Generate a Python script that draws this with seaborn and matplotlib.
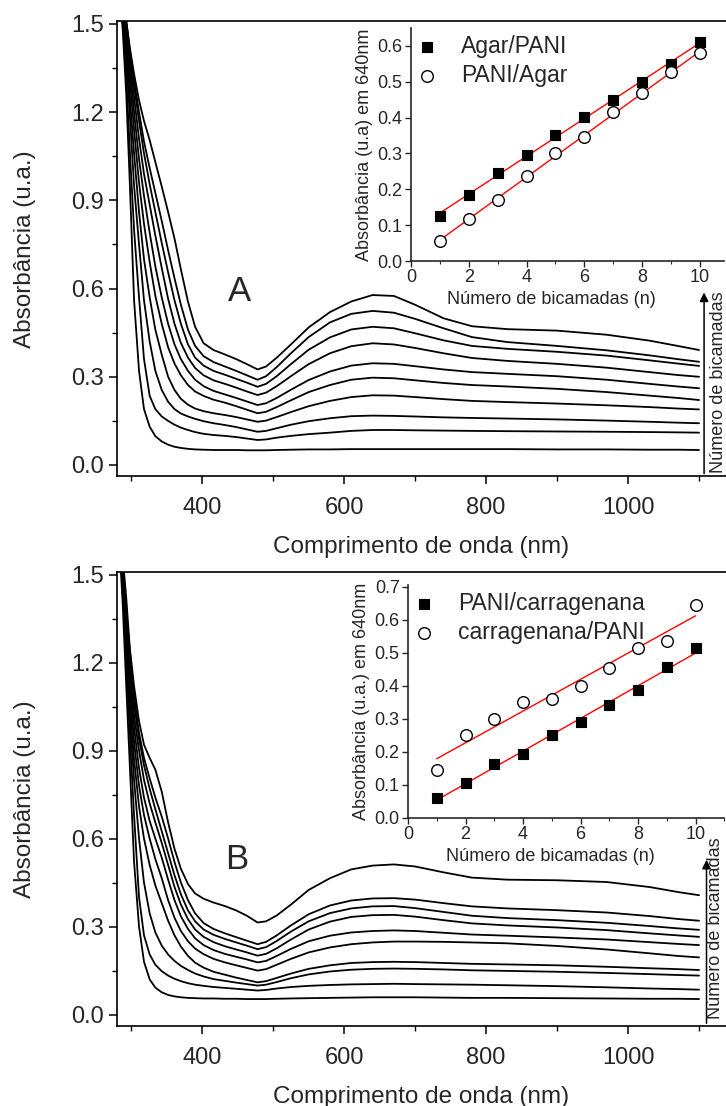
import matplotlib
matplotlib.use('Agg')
import matplotlib.pyplot as plt
import seaborn as sns
import numpy as np
import pandas as pd
from matplotlib.ticker import MultipleLocator, FormatStrFormatter

sns.set_theme(style='ticks')
plt.rcParams['font.family'] = ['Liberation Sans', 'DejaVu Sans']
plt.rcParams['axes.linewidth'] = 1.2

# comprimentos de onda (nm)
wl = [283, 288, 293, 298, 304, 311, 318, 326, 334, 343, 352, 361, 370, 380, 390, 402, 416, 432, 448, 463, 478,
      490, 505, 525, 550, 580, 610, 640, 670, 700, 740, 780, 830, 900, 970, 1030, 1070, 1100]

# painel A - espectros (1 a 10 bicamadas)
a1 = [1.62, 1.48, 1.26, 0.96, 0.56, 0.32, 0.19, 0.13, 0.098, 0.080, 0.069, 0.062, 0.058, 0.055, 0.053, 0.052, 0.051, 0.051, 0.051, 0.050, 0.050,
      0.050, 0.051, 0.052, 0.053, 0.053, 0.054, 0.054, 0.054, 0.054, 0.054, 0.054, 0.054, 0.053, 0.053, 0.052, 0.052, 0.051]
a2 = [1.62, 1.52, 1.32, 1.07, 0.80, 0.57, 0.36, 0.235, 0.19, 0.165, 0.15, 0.137, 0.127, 0.119, 0.112, 0.106, 0.102, 0.099, 0.095, 0.090, 0.085,
      0.087, 0.093, 0.099, 0.105, 0.110, 0.116, 0.119, 0.119, 0.118, 0.117, 0.116, 0.115, 0.114, 0.113, 0.112, 0.111, 0.110]
a3 = [1.62, 1.54, 1.38, 1.19, 0.95, 0.75, 0.56, 0.42, 0.32, 0.255, 0.215, 0.19, 0.175, 0.165, 0.157, 0.149, 0.142, 0.136, 0.129, 0.121, 0.113,
      0.116, 0.125, 0.137, 0.149, 0.159, 0.166, 0.168, 0.167, 0.165, 0.162, 0.160, 0.158, 0.155, 0.151, 0.147, 0.144, 0.142]
a4 = [1.62, 1.55, 1.42, 1.25, 1.06, 0.86, 0.70, 0.57, 0.46, 0.375, 0.30, 0.255, 0.225, 0.205, 0.192, 0.183, 0.176, 0.17, 0.163, 0.155, 0.147,
      0.151, 0.163, 0.18, 0.20, 0.218, 0.231, 0.237, 0.236, 0.231, 0.224, 0.218, 0.214, 0.209, 0.203, 0.197, 0.192, 0.189]
a5 = [1.62, 1.56, 1.45, 1.31, 1.14, 0.96, 0.82, 0.69, 0.575, 0.48, 0.40, 0.345, 0.305, 0.272, 0.25, 0.235, 0.222, 0.212, 0.20, 0.188, 0.176,
      0.181, 0.197, 0.22, 0.248, 0.272, 0.29, 0.297, 0.295, 0.288, 0.279, 0.272, 0.267, 0.259, 0.248, 0.236, 0.228, 0.221]
a6 = [1.62, 1.57, 1.47, 1.35, 1.20, 1.04, 0.915, 0.79, 0.675, 0.57, 0.48, 0.41, 0.36, 0.32, 0.29, 0.268, 0.252, 0.24, 0.228, 0.216, 0.204,
      0.21, 0.228, 0.256, 0.289, 0.318, 0.338, 0.346, 0.344, 0.336, 0.325, 0.316, 0.31, 0.302, 0.29, 0.276, 0.267, 0.261]
a7 = [1.62, 1.58, 1.49, 1.38, 1.25, 1.11, 0.99, 0.885, 0.78, 0.67, 0.565, 0.48, 0.415, 0.365, 0.33, 0.305, 0.288, 0.276, 0.263, 0.25, 0.238,
      0.246, 0.268, 0.302, 0.343, 0.38, 0.404, 0.414, 0.41, 0.398, 0.38, 0.364, 0.354, 0.344, 0.331, 0.316, 0.306, 0.300]
a8 = [1.62, 1.59, 1.50, 1.40, 1.29, 1.17, 1.06, 0.955, 0.86, 0.755, 0.655, 0.56, 0.48, 0.41, 0.365, 0.338, 0.32, 0.307, 0.293, 0.28, 0.266,
      0.276, 0.302, 0.343, 0.392, 0.434, 0.461, 0.47, 0.465, 0.448, 0.424, 0.405, 0.395, 0.385, 0.372, 0.356, 0.345, 0.337]
a9 = [1.62, 1.60, 1.51, 1.41, 1.31, 1.20, 1.10, 1.01, 0.925, 0.83, 0.73, 0.635, 0.545, 0.46, 0.405, 0.37, 0.35, 0.335, 0.32, 0.305, 0.29,
      0.302, 0.333, 0.38, 0.435, 0.485, 0.514, 0.524, 0.518, 0.497, 0.465, 0.435, 0.418, 0.405, 0.39, 0.373, 0.36, 0.351]
a10 = [1.62, 1.58, 1.51, 1.42, 1.33, 1.24, 1.17, 1.105, 1.03, 0.947, 0.86, 0.77, 0.665, 0.555, 0.47, 0.414, 0.391, 0.376, 0.36, 0.343, 0.325,
       0.335, 0.365, 0.41, 0.468, 0.52, 0.556, 0.578, 0.575, 0.545, 0.499, 0.472, 0.462, 0.457, 0.443, 0.423, 0.405, 0.391]

# painel B - espectros
b1 = [1.62, 1.40, 1.12, 0.85, 0.52, 0.30, 0.18, 0.12, 0.092, 0.076, 0.067, 0.062, 0.059, 0.057, 0.056, 0.055, 0.055, 0.054, 0.054, 0.053, 0.053,
      0.053, 0.054, 0.055, 0.056, 0.057, 0.058, 0.059, 0.059, 0.059, 0.058, 0.057, 0.057, 0.056, 0.055, 0.054, 0.054, 0.053]
b2 = [1.62, 1.45, 1.20, 0.95, 0.68, 0.40, 0.27, 0.205, 0.17, 0.148, 0.133, 0.122, 0.114, 0.107, 0.102, 0.098, 0.094, 0.091, 0.088, 0.085, 0.082,
      0.084, 0.089, 0.094, 0.098, 0.101, 0.103, 0.104, 0.105, 0.104, 0.103, 0.102, 0.100, 0.097, 0.093, 0.089, 0.087, 0.085]
b3 = [1.62, 1.47, 1.24, 1.01, 0.80, 0.60, 0.45, 0.345, 0.28, 0.235, 0.205, 0.183, 0.166, 0.152, 0.14, 0.13, 0.121, 0.115, 0.109, 0.104, 0.099,
      0.102, 0.111, 0.124, 0.137, 0.147, 0.153, 0.156, 0.157, 0.156, 0.154, 0.151, 0.149, 0.146, 0.142, 0.138, 0.135, 0.133]
b4 = [1.62, 1.48, 1.27, 1.06, 0.87, 0.71, 0.60, 0.51, 0.44, 0.38, 0.32, 0.27, 0.232, 0.20, 0.177, 0.16, 0.146, 0.136, 0.126, 0.118, 0.110,
      0.114, 0.125, 0.14, 0.156, 0.168, 0.176, 0.179, 0.18, 0.179, 0.176, 0.173, 0.171, 0.168, 0.163, 0.158, 0.155, 0.152]
b5 = [1.62, 1.49, 1.30, 1.11, 0.93, 0.78, 0.68, 0.60, 0.53, 0.465, 0.39, 0.33, 0.285, 0.25, 0.225, 0.206, 0.19, 0.178, 0.168, 0.159, 0.150,
      0.155, 0.17, 0.19, 0.212, 0.229, 0.24, 0.246, 0.249, 0.249, 0.248, 0.246, 0.243, 0.234, 0.222, 0.209, 0.20, 0.195]
b6 = [1.62, 1.50, 1.32, 1.15, 0.98, 0.84, 0.74, 0.66, 0.60, 0.535, 0.46, 0.39, 0.335, 0.292, 0.26, 0.237, 0.22, 0.207, 0.197, 0.188, 0.178,
      0.183, 0.20, 0.224, 0.25, 0.269, 0.28, 0.285, 0.287, 0.285, 0.279, 0.273, 0.269, 0.263, 0.256, 0.247, 0.241, 0.237]
b7 = [1.62, 1.51, 1.34, 1.18, 1.02, 0.90, 0.80, 0.72, 0.655, 0.585, 0.51, 0.435, 0.375, 0.325, 0.29, 0.265, 0.247, 0.233, 0.222, 0.212, 0.201,
      0.207, 0.226, 0.256, 0.29, 0.317, 0.333, 0.339, 0.34, 0.334, 0.322, 0.311, 0.304, 0.297, 0.288, 0.277, 0.27, 0.265]
b8 = [1.62, 1.52, 1.36, 1.21, 1.06, 0.94, 0.85, 0.77, 0.70, 0.625, 0.55, 0.475, 0.41, 0.355, 0.318, 0.29, 0.272, 0.258, 0.246, 0.235, 0.223,
      0.23, 0.251, 0.283, 0.318, 0.346, 0.362, 0.369, 0.37, 0.363, 0.35, 0.337, 0.329, 0.322, 0.313, 0.302, 0.294, 0.289]
b9 = [1.62, 1.53, 1.38, 1.24, 1.09, 0.96, 0.875, 0.805, 0.74, 0.675, 0.60, 0.52, 0.45, 0.39, 0.345, 0.312, 0.292, 0.277, 0.264, 0.252, 0.240,
      0.248, 0.27, 0.304, 0.342, 0.372, 0.389, 0.396, 0.397, 0.392, 0.38, 0.369, 0.362, 0.356, 0.348, 0.336, 0.326, 0.320]
b10 = [1.62, 1.56, 1.42, 1.25, 1.12, 1.00, 0.92, 0.875, 0.835, 0.76, 0.655, 0.565, 0.497, 0.445, 0.413, 0.395, 0.382, 0.37, 0.355, 0.337, 0.314,
       0.318, 0.338, 0.375, 0.425, 0.465, 0.495, 0.508, 0.512, 0.505, 0.485, 0.467, 0.46, 0.458, 0.452, 0.435, 0.418, 0.407]

# insets - absorbância em 640 nm
bicamadas = [1, 2, 3, 4, 5, 6, 7, 8, 9, 10]
agar_pani = [0.125, 0.185, 0.245, 0.295, 0.352, 0.402, 0.450, 0.498, 0.550, 0.610]
pani_agar = [0.057, 0.118, 0.170, 0.236, 0.300, 0.345, 0.415, 0.470, 0.527, 0.580]
pani_carr = [0.060, 0.105, 0.163, 0.195, 0.252, 0.290, 0.343, 0.387, 0.458, 0.513]
carr_pani = [0.145, 0.250, 0.300, 0.350, 0.360, 0.400, 0.455, 0.515, 0.535, 0.645]

curvas_a = [a1, a2, a3, a4, a5, a6, a7, a8, a9, a10]
curvas_b = [b1, b2, b3, b4, b5, b6, b7, b8, b9, b10]

fig = plt.figure(figsize=(7.26, 11.06), dpi=100)


def painel_principal(pos, curvas, letra, letra_xy, seta):
    ax = fig.add_axes(pos)
    for c in curvas:
        sns.lineplot(x=wl, y=c, ax=ax, color='black', lw=1.3, estimator=None)
    ax.set_xlim(280, 1138)
    ax.set_ylim(-0.039, 1.51)
    ax.xaxis.set_major_locator(MultipleLocator(200))
    ax.xaxis.set_minor_locator(MultipleLocator(100))
    ax.yaxis.set_major_locator(MultipleLocator(0.3))
    ax.yaxis.set_minor_locator(MultipleLocator(0.15))
    ax.yaxis.set_major_formatter(FormatStrFormatter('%.1f'))
    ax.tick_params(which='major', direction='out', length=6, width=1.1, labelsize=17, color='black')
    ax.tick_params(axis='x', which='major', pad=9)
    ax.tick_params(which='minor', direction='out', length=3.5, width=1.0, color='black')
    ax.spines['right'].set_visible(False)
    for s in ['left', 'bottom', 'top']:
        ax.spines[s].set_color('black')
    ax.set_xlabel('Comprimento de onda (nm)', fontsize=17.5, labelpad=12)
    ax.set_ylabel('Absorbância (u.a.)', fontsize=17.5, labelpad=25)
    ax.text(letra_xy[0], letra_xy[1], letra, fontsize=25, ha='center', va='center')
    # seta "Número de bicamadas"
    ax.annotate('', xy=(seta[0], seta[1]), xytext=(seta[0], 0.0), xycoords='axes fraction',
                arrowprops=dict(arrowstyle='-|>', color='black', lw=1.1, mutation_scale=13))
    ax.text(seta[2], seta[3], 'Número de bicamadas', rotation=90, fontsize=13, ha='center',
            va='center', transform=ax.transAxes)
    return ax


def inset(pos, s1, s2, l1, l2, ylab, xtop, ytop, ymax_tick, leg_y):
    ax = fig.add_axes(pos)
    ax.patch.set_alpha(0)
    for serie in (s1, s2):
        sns.regplot(x=bicamadas, y=serie, ax=ax, scatter=False, ci=None, truncate=True,
                    color='red', line_kws={'lw': 1.0})
    sns.scatterplot(x=bicamadas, y=s1, ax=ax, marker='s', s=60, color='black',
                    edgecolor='black', linewidth=0.8, label=l1, zorder=3)
    sns.scatterplot(x=bicamadas, y=s2, ax=ax, marker='o', s=70, color='white',
                    edgecolor='black', linewidth=1.0, label=l2, zorder=3)
    ax.set_xlim(0, xtop)
    ax.set_ylim(0, ytop)
    ax.xaxis.set_major_locator(MultipleLocator(2))
    ax.xaxis.set_minor_locator(MultipleLocator(1))
    ax.set_yticks(np.arange(0, ymax_tick + 0.001, 0.1))
    ax.yaxis.set_major_formatter(FormatStrFormatter('%.1f'))
    ax.tick_params(which='major', direction='out', length=4, width=1.0, labelsize=13, pad=2)
    ax.tick_params(which='minor', direction='out', length=2.5, width=0.8)
    ax.spines['top'].set_visible(False)
    ax.spines['right'].set_visible(False)
    ax.set_xlabel('Número de bicamadas (n)', fontsize=13, labelpad=3)
    ax.xaxis.set_label_coords(0.45, -0.13)
    ax.set_ylabel(ylab, fontsize=13, labelpad=3)
    ax.legend(loc='upper left', bbox_to_anchor=(0.0, leg_y), frameon=False, fontsize=16.5,
              handlelength=1.0, handletextpad=1.0, labelspacing=0.28, borderaxespad=0, borderpad=0.2)
    return ax


painel_principal([0.1612, 0.5692, 0.8388, 0.4118], curvas_a, 'A', (453, 0.59),
                 (0.964, 0.41, 0.9885, 0.206))
inset([0.5661, 0.7640, 0.4311, 0.2107], agar_pani, pani_agar, 'Agar/PANI', 'PANI/Agar',
      'Absorbância (u.a) em 640nm', 10.83, 0.65, 0.6, 0.99)

painel_principal([0.1612, 0.0723, 0.8388, 0.4108], curvas_b, 'B', (448, 0.53),
                 (0.968, 0.372, 0.983, 0.216))
inset([0.5620, 0.2604, 0.4356, 0.2107], pani_carr, carr_pani, 'PANI/carragenana', 'carragenana/PANI',
      'Absorbância (u.a.) em 640nm', 11.0, 0.705, 0.7, 0.99)

fig.savefig('out.png', dpi=100)
